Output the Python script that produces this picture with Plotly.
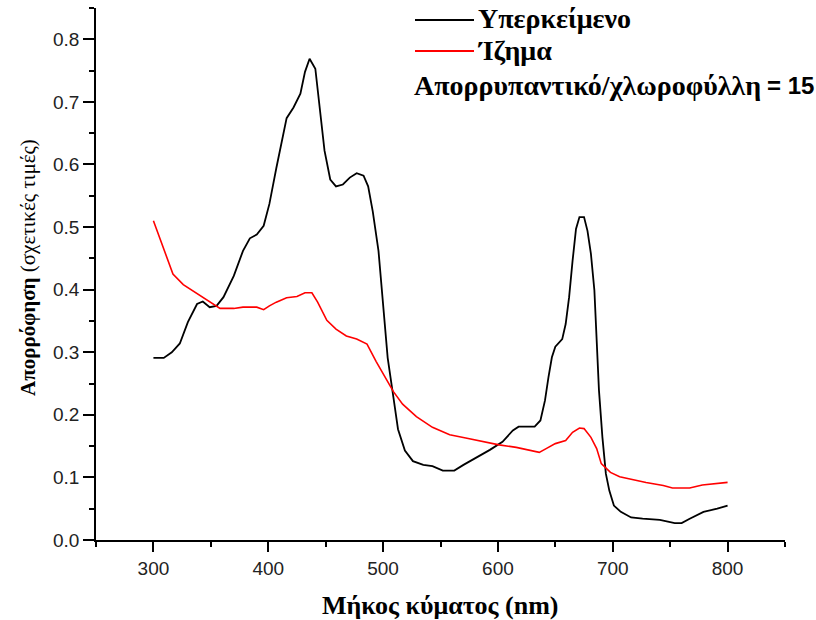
import plotly.graph_objects as go

# ---- data ----
supernatant_nm = [300, 309, 316, 323, 330, 338, 343, 349, 355, 361, 370, 378, 384, 390, 396, 401, 407, 412,
                  416, 422, 428, 432, 436, 441, 445, 449, 454, 459, 465, 471, 477, 483, 487, 491, 496, 500,
                  504, 509, 513, 519, 526, 535, 543, 552, 562, 570, 581, 593, 604, 613, 618, 632, 637, 641,
                  644, 647, 650, 656, 659, 662, 665, 668, 671, 675, 678, 681, 684, 686, 688, 691, 694, 697,
                  701, 707, 716, 726, 741, 754, 760, 767, 779, 791, 800]
supernatant_abs = [0.291, 0.291, 0.300, 0.314, 0.348, 0.377, 0.381, 0.372, 0.374, 0.388, 0.422, 0.462, 0.482,
                   0.488, 0.502, 0.537, 0.594, 0.639, 0.674, 0.691, 0.713, 0.748, 0.769, 0.753, 0.691, 0.622,
                   0.576, 0.565, 0.568, 0.579, 0.586, 0.582, 0.565, 0.525, 0.462, 0.377, 0.291, 0.228, 0.177,
                   0.143, 0.126, 0.120, 0.118, 0.111, 0.111, 0.120, 0.131, 0.144, 0.157, 0.175, 0.181, 0.181,
                   0.191, 0.223, 0.260, 0.292, 0.309, 0.321, 0.345, 0.388, 0.446, 0.497, 0.516, 0.516, 0.494,
                   0.457, 0.399, 0.313, 0.239, 0.164, 0.106, 0.079, 0.055, 0.045, 0.036, 0.034, 0.032, 0.027,
                   0.027, 0.034, 0.045, 0.050, 0.055]

sediment_nm = [300, 306, 312, 317, 326, 335, 343, 352, 358, 370, 378, 390, 396, 401, 407, 416, 425, 432, 438,
               443, 451, 459, 468, 477, 486, 494, 503, 509, 517, 529, 543, 558, 572, 587, 601, 616, 627, 636,
               642, 650, 659, 665, 671, 675, 681, 686, 690, 698, 706, 718, 729, 744, 752, 767, 778, 800]
sediment_abs = [0.510, 0.479, 0.451, 0.425, 0.408, 0.397, 0.388, 0.377, 0.370, 0.370, 0.372, 0.372, 0.368,
                0.374, 0.380, 0.387, 0.389, 0.395, 0.395, 0.380, 0.351, 0.337, 0.326, 0.321, 0.313, 0.285,
                0.257, 0.237, 0.217, 0.197, 0.180, 0.168, 0.163, 0.157, 0.152, 0.148, 0.144, 0.140, 0.146,
                0.154, 0.159, 0.172, 0.179, 0.178, 0.164, 0.146, 0.122, 0.108, 0.101, 0.096, 0.092, 0.087,
                0.083, 0.083, 0.088, 0.092]

series_names = ["Υπερκείμενο", "Ίζημα"]
ratio_label = "Απορρυπαντικό/χλωροφύλλη"
ratio_value = "= 15"
x_ticks = [300, 400, 500, 600, 700, 800]
y_ticks = [0.0, 0.1, 0.2, 0.3, 0.4, 0.5, 0.6, 0.7, 0.8]

assert len(supernatant_nm) == len(supernatant_abs)
assert len(sediment_nm) == len(sediment_abs)

SERIF = "Liberation Serif"
SANS = "Liberation Sans"

fig = go.Figure()
fig.add_trace(go.Scatter(x=supernatant_nm, y=supernatant_abs, mode="lines", name=series_names[0],
                         line=dict(color="black", width=1.8), showlegend=False))
fig.add_trace(go.Scatter(x=sediment_nm, y=sediment_abs, mode="lines", name=series_names[1],
                         line=dict(color="#ff0000", width=1.6), showlegend=False))

W, H = 816, 620
L, R, T, B = 96, 31, 8, 80
pw, ph = W - L - R, H - T - B


def px(x):
    return (x - L) / pw


def py(y):
    return (H - B - y) / ph


# legend (manual, to match the long key lines)
for i, (name, col) in enumerate(zip(series_names, ["black", "#ff0000"])):
    yy = [20, 51][i]
    fig.add_shape(type="line", xref="paper", yref="paper", x0=px(415), x1=px(474), y0=py(yy), y1=py(yy),
                  line=dict(color=col, width=1.8))
    fig.add_annotation(xref="paper", yref="paper", x=px(476), y=py(yy - 1), text="<b>%s</b>" % name,
                       showarrow=False, xanchor="left", yanchor="middle",
                       font=dict(family=SERIF, size=28, color="black"))
fig.add_annotation(xref="paper", yref="paper", x=px(412), y=py(85), text="<b>%s</b>" % ratio_label,
                   showarrow=False, xanchor="left", yanchor="middle",
                   font=dict(family=SERIF, size=28, color="black"))
fig.add_annotation(xref="paper", yref="paper", x=px(816), y=py(86), text="<b>%s</b>" % ratio_value,
                   showarrow=False, xanchor="right", yanchor="middle",
                   font=dict(family=SANS, size=24, color="black"))

# axis titles
fig.add_annotation(xref="paper", yref="paper", x=0.5, y=py(605), text="<b>Μήκος κύματος (nm)</b>",
                   showarrow=False, xanchor="center", yanchor="middle",
                   font=dict(family=SERIF, size=26, color="black"))
fig.add_annotation(xref="paper", yref="paper", x=px(28), y=py(268),
                   text="<b>Απορρόφηση</b> (σχετικές τιμές)", textangle=-90,
                   showarrow=False, xanchor="center", yanchor="middle",
                   font=dict(family=SERIF, size=21, color="black"))

fig.update_xaxes(range=[250, 850], tickvals=x_ticks, ticktext=[str(v) for v in x_ticks],
                 ticks="outside", ticklen=10, tickwidth=1.5, tickcolor="black",
                 minor=dict(dtick=50, tick0=250, ticks="outside", ticklen=5, tickwidth=1.5, tickcolor="black"),
                 showline=True, linecolor="black", linewidth=1.5, showgrid=False, zeroline=False,
                 tickfont=dict(family=SANS, size=19, color="#222222"))
fig.update_yaxes(range=[0, 0.85], tickvals=y_ticks, ticktext=["%.1f" % v for v in y_ticks],
                 ticks="outside", ticklen=11, tickwidth=1.5, tickcolor="black",
                 minor=dict(dtick=0.05, tick0=0, ticks="outside", ticklen=5, tickwidth=1.5, tickcolor="black"),
                 showline=True, linecolor="black", linewidth=1.5, showgrid=False, zeroline=False,
                 tickfont=dict(family=SANS, size=19, color="#222222"))

fig.update_layout(width=W, height=H, margin=dict(l=L, r=R, t=T, b=B),
                  plot_bgcolor="white", paper_bgcolor="white", showlegend=False)

fig.write_html("out.html")
